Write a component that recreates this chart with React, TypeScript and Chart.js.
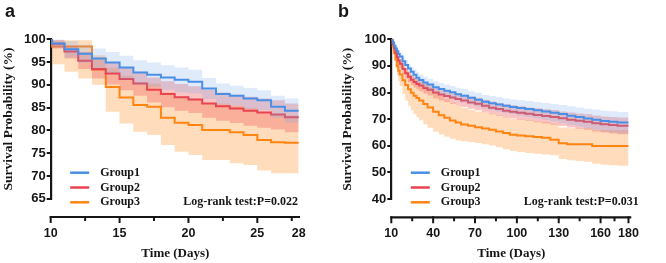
import { useEffect, useRef } from 'react';
import { Chart, registerables } from 'chart.js';

Chart.register(...registerables);

// ---------- Panel a: 10–28 days ----------
const A_DAYS = [10, 10.1, 11, 12, 13, 14, 15, 16, 17, 18, 19, 20, 21, 22, 23, 24, 25, 26, 27, 28];

const A_G1 = [100, 99.1, 97.8, 96.8, 95.8, 94.9, 93.8, 92.7, 92.2, 91.6, 91.1, 90.7, 89.2, 88.0, 87.6, 87.0, 86.6, 85.2, 84.3, 84.3];
const A_G1_HI = [100, 100, 99.6, 98.8, 98.0, 97.2, 96.4, 95.4, 94.9, 94.3, 93.8, 93.3, 91.5, 90.3, 89.8, 89.3, 88.8, 87.6, 87.0, 87.0];
const A_G1_LO = [100, 98.2, 96.0, 94.8, 93.6, 92.6, 91.2, 90.0, 89.5, 88.9, 88.4, 88.1, 86.9, 85.7, 85.4, 84.7, 84.4, 82.8, 81.7, 81.7];

const A_G2 = [100, 99.0, 97.3, 95.3, 93.5, 92.5, 91.3, 90.3, 88.9, 88.0, 87.3, 86.8, 85.9, 85.3, 84.8, 84.3, 83.9, 83.5, 82.9, 82.9];
const A_G2_HI = [100, 99.8, 98.6, 97.2, 95.6, 94.8, 93.8, 92.9, 91.6, 90.8, 90.2, 89.7, 88.9, 88.3, 87.8, 87.4, 87.0, 86.6, 85.9, 85.9];
const A_G2_LO = [100, 98.0, 95.8, 93.5, 91.4, 90.1, 88.8, 87.6, 86.1, 85.1, 84.3, 83.8, 82.8, 82.1, 81.6, 81.0, 80.6, 80.2, 79.6, 79.6];

const A_G3 = [100, 98.4, 98.4, 98.4, 93.3, 89.5, 87.2, 85.6, 85.2, 82.8, 81.7, 81.2, 80.1, 80.1, 79.6, 79.0, 77.9, 77.4, 77.3, 77.3];
const A_G3_HI = [100, 99.8, 99.8, 99.8, 96.5, 93.8, 92.0, 90.6, 90.3, 88.3, 87.3, 86.8, 85.9, 85.9, 85.4, 84.9, 83.9, 83.4, 83.3, 83.3];
const A_G3_LO = [100, 94.5, 92.9, 91.4, 90.0, 84.1, 81.5, 79.7, 79.0, 76.8, 75.3, 74.6, 73.5, 73.5, 72.8, 72.4, 71.2, 70.6, 70.6, 70.6];

const A_X_LABELS = [10, 15, 20, 25, 28];
const A_X_MAJOR = [10, 15, 20, 25];
const A_X_MINOR = [12.5, 17.5, 22.5, 27.5];
const A_P_TEXT = 'Log-rank test:P=0.022';

// ---------- Panel b: 10–180 days ----------
const B_DAYS = [10, 11, 12, 13, 14, 15, 16, 18, 20, 22, 24, 26, 28, 30, 33, 36, 40, 44, 48, 52, 56, 60, 65, 70, 75, 80, 85, 90, 95, 100, 106, 112, 118, 124, 130, 136, 142, 148, 154, 160, 166, 172, 180];

const B_G1 = [100, 98.8, 97.6, 96.5, 95.5, 94.5, 93.5, 91.8, 90.3, 89.0, 87.8, 86.7, 85.6, 84.7, 83.8, 83.0, 82.0, 81.3, 80.7, 80.1, 79.4, 78.8, 78.0, 77.3, 76.5, 76.0, 75.5, 75.0, 74.6, 74.2, 73.8, 73.3, 72.9, 72.4, 71.9, 71.3, 70.8, 70.2, 69.8, 69.3, 69.0, 68.7, 68.7];
const B_G1_HI = [100, 99.3, 98.4, 97.5, 96.7, 95.8, 94.9, 93.4, 92.0, 90.8, 89.7, 88.7, 87.6, 86.8, 85.9, 85.2, 84.2, 83.6, 83.0, 82.5, 81.8, 81.3, 80.5, 79.9, 79.1, 78.7, 78.2, 77.8, 77.4, 77.1, 76.8, 76.4, 76.1, 75.7, 75.3, 74.8, 74.4, 73.9, 73.6, 73.2, 73.0, 72.7, 72.7];
const B_G1_LO = [100, 98.3, 96.8, 95.5, 94.3, 93.2, 92.1, 90.2, 88.6, 87.2, 85.9, 84.7, 83.6, 82.6, 81.7, 80.8, 79.8, 79.0, 78.4, 77.7, 77.0, 76.3, 75.5, 74.7, 73.9, 73.3, 72.8, 72.2, 71.8, 71.3, 70.8, 70.2, 69.7, 69.1, 68.5, 67.8, 67.2, 66.5, 66.0, 65.4, 65.0, 64.7, 64.7];

const B_G2 = [100, 98.2, 96.5, 94.8, 93.3, 92.0, 90.8, 88.8, 87.2, 85.9, 84.8, 84.0, 83.2, 82.6, 81.7, 81.0, 80.0, 79.3, 78.7, 78.1, 77.6, 77.0, 76.3, 75.8, 75.0, 74.3, 73.8, 73.2, 72.8, 72.4, 72.0, 71.6, 71.2, 70.8, 70.3, 69.8, 69.4, 69.0, 68.5, 68.1, 67.8, 67.5, 67.5];
const B_G2_HI = [100, 99.0, 97.6, 96.1, 94.8, 93.6, 92.5, 90.6, 89.1, 87.9, 86.8, 86.0, 85.2, 84.6, 83.7, 83.0, 82.0, 81.3, 80.8, 80.2, 79.7, 79.2, 78.5, 78.0, 77.3, 76.6, 76.1, 75.6, 75.2, 74.8, 74.4, 74.1, 73.7, 73.4, 72.9, 72.5, 72.1, 71.8, 71.4, 71.0, 70.8, 70.6, 70.6];
const B_G2_LO = [100, 97.3, 95.3, 93.4, 91.7, 90.3, 89.0, 86.9, 85.2, 83.8, 82.7, 81.9, 81.1, 80.5, 79.6, 78.9, 77.8, 77.0, 76.4, 75.8, 75.2, 74.6, 73.9, 73.3, 72.5, 71.8, 71.2, 70.6, 70.2, 69.7, 69.3, 68.8, 68.4, 67.9, 67.4, 66.9, 66.4, 66.0, 65.4, 65.0, 64.6, 64.3, 64.3];

const B_G3 = [100, 97.3, 94.8, 92.4, 90.0, 88.2, 86.8, 84.6, 82.8, 81.2, 79.9, 78.8, 77.9, 77.0, 75.7, 74.4, 72.8, 71.5, 70.5, 69.5, 68.7, 68.0, 67.5, 67.0, 66.5, 66.0, 65.4, 64.8, 64.1, 63.9, 63.6, 63.3, 63.0, 62.3, 60.9, 60.6, 60.6, 60.6, 59.9, 59.9, 59.9, 59.9, 59.9];
const B_G3_HI = [100, 99.0, 97.5, 95.8, 93.5, 92.0, 91.0, 89.5, 88.5, 87.3, 86.3, 85.5, 84.8, 84.0, 82.9, 81.8, 80.2, 78.8, 77.5, 76.3, 75.3, 74.3, 73.5, 72.9, 72.5, 72.0, 71.4, 70.8, 70.1, 69.8, 69.5, 69.2, 68.9, 68.3, 66.9, 66.6, 66.6, 66.6, 65.9, 65.9, 65.9, 65.9, 65.9];
const B_G3_LO = [100, 95.5, 92.0, 89.0, 86.5, 84.3, 82.5, 79.5, 77.0, 75.0, 73.3, 71.9, 70.7, 69.6, 68.1, 66.8, 65.3, 64.2, 63.4, 62.6, 62.0, 61.7, 61.4, 61.0, 60.6, 60.1, 59.4, 58.7, 58.0, 57.7, 57.3, 57.0, 56.7, 56.4, 55.0, 54.6, 54.3, 54.0, 53.2, 52.9, 52.7, 52.5, 52.5];

const B_X_LABELS = [10, 40, 70, 100, 130, 160, 180];
const B_X_MAJOR = [10, 40, 70, 100, 130, 160, 180];
const B_X_MINOR = [25, 55, 85, 115, 145, 170];
const B_P_TEXT = 'Log-rank test:P=0.031';

const GROUP_NAMES = ['Group1', 'Group2', 'Group3'];

// ---------- styling ----------
const INK = '#161616';
const SANS = '"Liberation Sans", Arial, sans-serif';
const SERIF = '"Liberation Serif", "Times New Roman", serif';
const PALETTE = [
  { line: '#4a8fe6', band: 'rgba(120,170,240,0.24)' },
  { line: '#e8434f', band: 'rgba(240,100,100,0.38)' },
  { line: '#ff8412', band: 'rgba(255,160,70,0.36)' },
];

type Group = { surv: number[]; hi: number[]; lo: number[] };

function buildDatasets(days: number[], groups: Group[]) {
  const pts = (vals: number[]) => days.map((d, i) => ({ x: d, y: vals[i] }));
  const sets: any[] = [];
  // first dataset is painted last, so Group1 ends up on top
  groups.forEach((g, k) => {
    const c = PALETTE[k];
    sets.push({
      label: GROUP_NAMES[k],
      data: pts(g.surv),
      borderColor: c.line,
      borderWidth: 2,
      stepped: 'before',
      pointRadius: 0,
      fill: false,
    });
    sets.push({
      label: GROUP_NAMES[k] + ' upper',
      data: pts(g.hi),
      borderWidth: 0,
      borderColor: 'rgba(0,0,0,0)',
      backgroundColor: c.band,
      stepped: 'before',
      pointRadius: 0,
      fill: '+1',
    });
    sets.push({
      label: GROUP_NAMES[k] + ' lower',
      data: pts(g.lo),
      borderWidth: 0,
      borderColor: 'rgba(0,0,0,0)',
      stepped: 'before',
      pointRadius: 0,
      fill: false,
    });
  });
  return sets;
}

// Offset x axis, legend, panel letter and test label
const kmDecor = {
  id: 'kmDecor',
  afterDraw(chart: any, _args: any, o: any) {
    const { ctx, chartArea } = chart;
    const xs = chart.scales.x;
    const y0 = chartArea.bottom + o.axisGap;
    ctx.save();
    ctx.strokeStyle = INK;
    ctx.lineWidth = 2.2;
    ctx.beginPath();
    ctx.moveTo(chartArea.left - 1, y0);
    ctx.lineTo(xs.getPixelForValue(o.axisEnd), y0);
    ctx.stroke();
    ctx.lineWidth = 2;
    ctx.beginPath();
    o.major.forEach((v: number) => {
      const p = xs.getPixelForValue(v);
      ctx.moveTo(p, y0 - 1);
      ctx.lineTo(p, y0 + 6);
    });
    o.minor.forEach((v: number) => {
      const p = xs.getPixelForValue(v);
      ctx.moveTo(p, y0);
      ctx.lineTo(p, y0 + 4);
    });
    ctx.stroke();

    // panel letter
    ctx.fillStyle = INK;
    ctx.font = 'bold 18px ' + SANS;
    ctx.textAlign = 'left';
    ctx.textBaseline = 'alphabetic';
    ctx.fillText(o.letter, 5, 17);

    // legend
    ctx.font = 'bold 12px ' + SERIF;
    ctx.textBaseline = 'middle';
    o.legendY.forEach((ly: number, k: number) => {
      ctx.strokeStyle = PALETTE[k].line;
      ctx.lineWidth = 2.5;
      ctx.beginPath();
      ctx.moveTo(chartArea.left + 19.5, ly);
      ctx.lineTo(chartArea.left + 38.5, ly);
      ctx.stroke();
      ctx.fillStyle = INK;
      ctx.fillText(GROUP_NAMES[k], chartArea.left + 49.5, ly);
    });
    ctx.fillText(o.pText, chartArea.left + 132.5, o.legendY[2]);
    ctx.restore();
  },
};

type PanelSpec = {
  letter: string;
  days: number[];
  groups: Group[];
  xMin: number;
  xMax: number;
  axisEnd: number;
  xLabels: number[];
  xMajor: number[];
  xMinor: number[];
  yMin: number;
  yMax: number;
  yStep: number;
  padLeft: number;
  yWidth: number;
  padRight: number;
  xHeight: number;
  tickPad: number;
  pText: string;
};

function KMPanel({ spec }: { spec: PanelSpec }) {
  const ref = useRef<HTMLCanvasElement | null>(null);
  useEffect(() => {
    if (!ref.current) return;
    const chart = new Chart(ref.current, {
      type: 'line',
      data: { datasets: buildDatasets(spec.days, spec.groups) },
      plugins: [kmDecor],
      options: {
        responsive: false,
        animation: false,
        devicePixelRatio: 1,
        layout: { padding: { top: 39.3, left: spec.padLeft, right: spec.padRight, bottom: 0 } },
        scales: {
          x: {
            type: 'linear',
            min: spec.xMin,
            max: spec.xMax,
            afterBuildTicks: (s: any) => {
              s.ticks = spec.xLabels.map((v) => ({ value: v }));
            },
            afterFit: (s: any) => {
              s.height = spec.xHeight;
            },
            ticks: {
              autoSkip: false,
              maxRotation: 0,
              padding: spec.tickPad,
              color: INK,
              font: { family: SANS, weight: 'bold', size: 12.5 },
              callback: (v: any) => String(v),
            },
            grid: { display: false, drawTicks: false },
            border: { display: false },
            title: {
              display: true,
              text: 'Time (Days)',
              color: INK,
              font: { family: SERIF, weight: 'bold', size: 13 },
              padding: { top: 0, bottom: 2 },
            },
          },
          y: {
            min: spec.yMin,
            max: spec.yMax,
            afterFit: (s: any) => {
              s.width = spec.yWidth;
            },
            ticks: {
              stepSize: spec.yStep,
              padding: 1,
              color: INK,
              font: { family: SANS, weight: 'bold', size: 13 },
            },
            grid: {
              display: true,
              drawOnChartArea: false,
              drawTicks: true,
              tickLength: 4,
              color: INK,
              lineWidth: 2,
            },
            border: { display: true, color: INK, width: 2.2 },
            title: {
              display: true,
              text: 'Survival Probability (%)',
              color: INK,
              font: { family: SERIF, weight: 'bold', size: 13.5 },
              padding: { top: 0, bottom: 0 },
            },
          },
        },
        plugins: {
          legend: { display: false },
          tooltip: { enabled: false },
          kmDecor: {
            letter: spec.letter,
            axisGap: 18.3,
            axisEnd: spec.axisEnd,
            major: spec.xMajor,
            minor: spec.xMinor,
            legendY: [172.7, 187.5, 202.3],
            pText: spec.pText,
          },
        } as any,
      } as any,
    });
    return () => chart.destroy();
  }, [spec]);
  return <canvas ref={ref} width={333} height={263} style={{ display: 'block', width: 333, height: 263 }} />;
}

const PANEL_A: PanelSpec = {
  letter: 'a',
  days: A_DAYS,
  groups: [
    { surv: A_G1, hi: A_G1_HI, lo: A_G1_LO },
    { surv: A_G2, hi: A_G2_HI, lo: A_G2_LO },
    { surv: A_G3, hi: A_G3_HI, lo: A_G3_LO },
  ],
  xMin: 10,
  xMax: 28.1,
  axisEnd: 28.1,
  xLabels: A_X_LABELS,
  xMajor: A_X_MAJOR,
  xMinor: A_X_MINOR,
  yMin: 65,
  yMax: 100,
  yStep: 5,
  padLeft: 0,
  yWidth: 50.7,
  padRight: 18,
  xHeight: 64.3,
  tickPad: 27.3,
  pText: A_P_TEXT,
};

const PANEL_B: PanelSpec = {
  letter: 'b',
  days: B_DAYS,
  groups: [
    { surv: B_G1, hi: B_G1_HI, lo: B_G1_LO },
    { surv: B_G2, hi: B_G2_HI, lo: B_G2_LO },
    { surv: B_G3, hi: B_G3_HI, lo: B_G3_LO },
  ],
  xMin: 10,
  xMax: 182,
  axisEnd: 182,
  xLabels: B_X_LABELS,
  xMajor: B_X_MAJOR,
  xMinor: B_X_MINOR,
  yMin: 40,
  yMax: 100,
  yStep: 10,
  padLeft: 6.4,
  yWidth: 51.9,
  padRight: 8.2,
  xHeight: 64,
  tickPad: 27,
  pText: B_P_TEXT,
};

export default function App() {
  return (
    <div style={{ position: 'absolute', left: 0, top: 0, width: 666, height: 263, display: 'flex', background: '#ffffff' }}>
      <KMPanel spec={PANEL_A} />
      <KMPanel spec={PANEL_B} />
    </div>
  );
}
